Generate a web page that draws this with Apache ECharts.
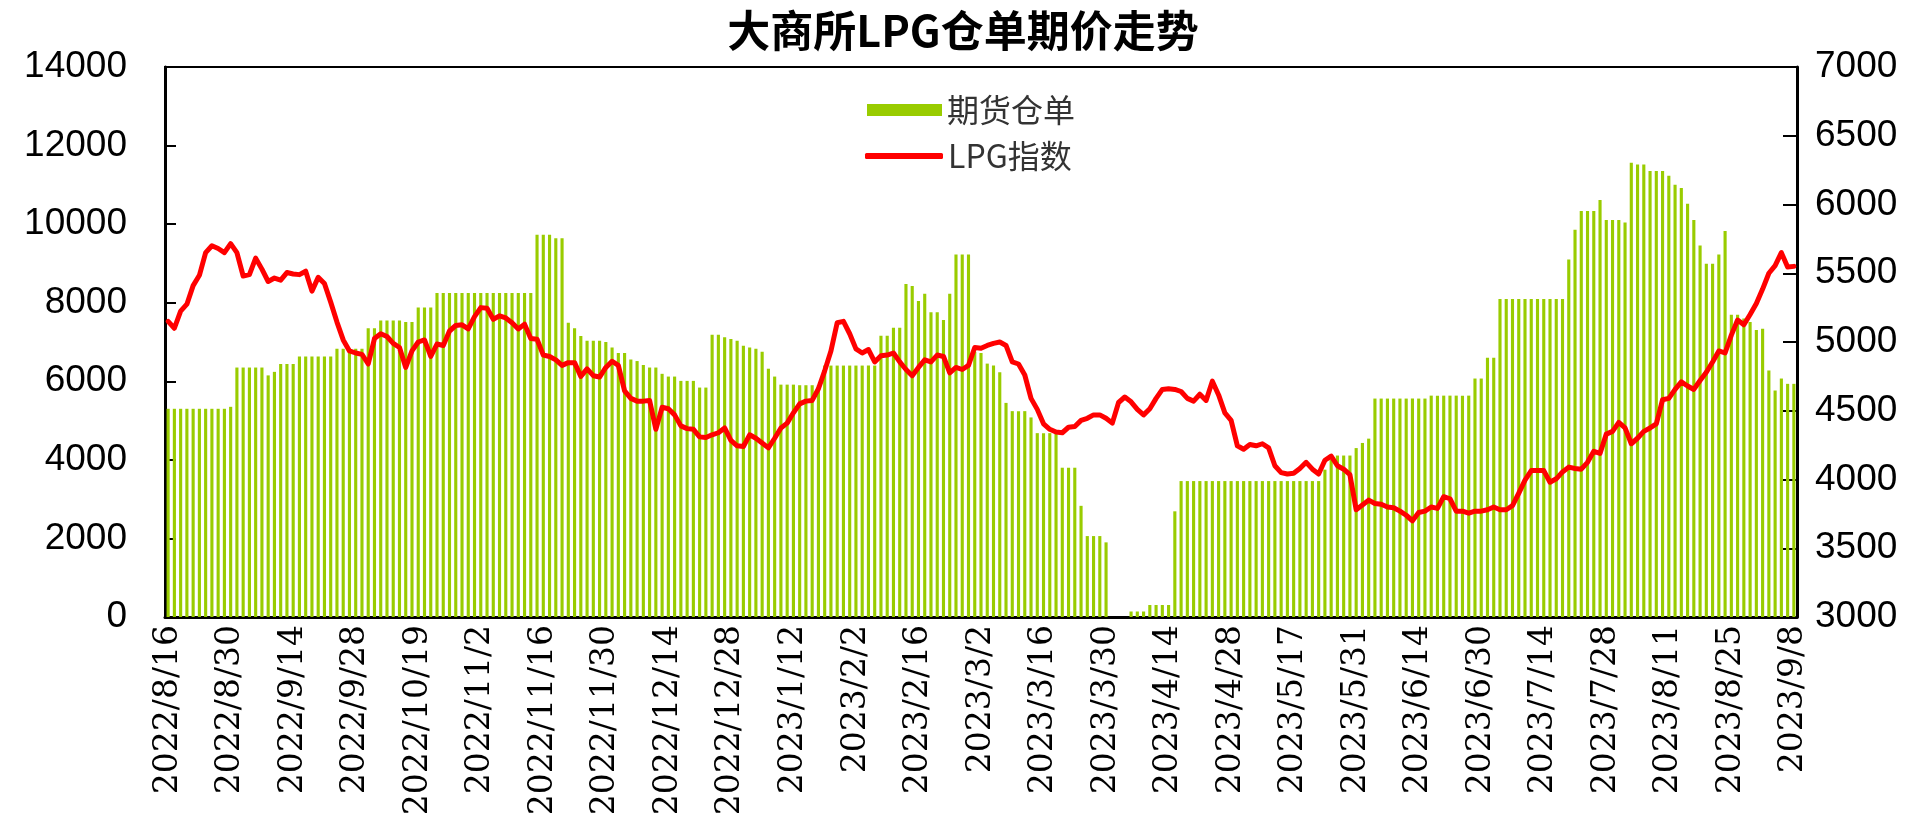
<!DOCTYPE html>
<html>
<head>
<meta charset="utf-8">
<title>大商所LPG仓单期价走势</title>
<script src="https://cdn.jsdelivr.net/npm/echarts@6.0.0/dist/echarts.min.js"></script>
<style>
  html, body { margin: 0; padding: 0; background: #fff; }
  #chart { width: 1926px; height: 816px; }
</style>
</head>
<body>
<div id="chart"></div>
<script>
// trading days 2022/8/16 - 2023/9/8 (weekends + exchange holidays left out)
const startDay = '2022/8/16';
const endDay = '2023/9/8';
const holidays = [
  '2022/9/12', '2022/10/3', '2022/10/4', '2022/10/5', '2022/10/6', '2022/10/7',
  '2023/1/2', '2023/1/23', '2023/1/24', '2023/1/25', '2023/1/26', '2023/1/27',
  '2023/4/5', '2023/5/1', '2023/5/2', '2023/5/3', '2023/6/22', '2023/6/23'
];

// 期货仓单 (left axis)
const receipts = [
  5300, 5300, 5300, 5300, 5300, 5300, 5300, 5300, 5300, 5300,
  5350, 6350, 6350, 6350, 6350, 6350, 6150, 6240, 6440, 6440,
  6440, 6630, 6630, 6630, 6630, 6630, 6630, 6830, 6830, 6830,
  6830, 6830, 7350, 7350, 7545, 7545, 7545, 7545, 7510, 7510,
  7880, 7880, 7880, 8250, 8250, 8250, 8250, 8250, 8250, 8250,
  8250, 8250, 8250, 8250, 8250, 8250, 8250, 8250, 8250, 9730,
  9730, 9730, 9640, 9640, 7490, 7350, 7155, 7030, 7030, 7030,
  7000, 6860, 6720, 6720, 6555, 6515, 6415, 6350, 6350, 6190,
  6120, 6120, 6010, 6010, 6010, 5840, 5840, 7185, 7185, 7120,
  7075, 7030, 6905, 6860, 6830, 6750, 6320, 6120, 5915, 5915,
  5915, 5900, 5900, 5900, 5900, 6400, 6400, 6400, 6400, 6400,
  6400, 6400, 6400, 6400, 7160, 7160, 7360, 7360, 8475, 8425,
  8045, 8230, 7755, 7755, 7560, 8230, 9225, 9225, 9225, 6750,
  6720, 6450, 6400, 6230, 5450, 5240, 5240, 5240, 5080, 4680,
  4680, 4680, 4680, 3800, 3800, 3800, 2830, 2060, 2060, 2060,
  1900, 0, 0, 0, 140, 140, 140, 305, 305, 305,
  305, 2690, 3460, 3460, 3460, 3460, 3460, 3460, 3460, 3460,
  3460, 3460, 3460, 3460, 3460, 3460, 3460, 3460, 3460, 3460,
  3460, 3460, 3460, 3460, 3460, 3750, 4000, 4110, 4110, 4110,
  4300, 4430, 4540, 5560, 5560, 5560, 5560, 5560, 5560, 5560,
  5560, 5560, 5635, 5635, 5635, 5635, 5635, 5635, 5635, 6070,
  6070, 6600, 6600, 8095, 8095, 8095, 8095, 8095, 8095, 8095,
  8095, 8095, 8095, 8095, 9100, 9855, 10335, 10335, 10335, 10615,
  10105, 10105, 10105, 10040, 11560, 11520, 11520, 11355, 11355, 11355,
  11235, 11005, 10920, 10520, 10105, 9455, 8990, 8990, 9225, 9825,
  7695, 7695, 7600, 7510, 7305, 7340, 6275, 5765, 6070, 5935,
  5935
];

// LPG指数 (right axis)
const lpgIndex = [
  5150, 5100, 5225, 5275, 5410, 5485, 5650, 5700, 5680, 5650,
  5715, 5650, 5480, 5490, 5610, 5530, 5440, 5465, 5450, 5505,
  5495, 5490, 5515, 5370, 5470, 5425, 5290, 5145, 5015, 4935,
  4920, 4910, 4840, 5025, 5060, 5040, 4990, 4960, 4815, 4935,
  5000, 5015, 4895, 4985, 4975, 5080, 5120, 5125, 5095, 5185,
  5250, 5245, 5165, 5190, 5175, 5140, 5095, 5130, 5025, 5020,
  4905, 4895, 4870, 4830, 4850, 4850, 4750, 4805, 4755, 4745,
  4815, 4860, 4830, 4645, 4590, 4570, 4570, 4575, 4365, 4525,
  4515, 4470, 4390, 4370, 4365, 4310, 4305, 4325, 4340, 4375,
  4285, 4245, 4240, 4325, 4300, 4265, 4230, 4300, 4375, 4410,
  4485, 4550, 4570, 4575, 4660, 4790, 4935, 5140, 5150, 5060,
  4950, 4920, 4945, 4855, 4900, 4905, 4920, 4855, 4800, 4755,
  4815, 4870, 4855, 4905, 4895, 4775, 4815, 4800, 4830, 4960,
  4955, 4975, 4990, 5000, 4975, 4855, 4840, 4760, 4590, 4510,
  4405, 4365, 4345, 4340, 4380, 4385, 4430, 4445, 4470, 4470,
  4445, 4410, 4560, 4600, 4565, 4510, 4470, 4515, 4590, 4655,
  4660, 4655, 4640, 4590, 4570, 4620, 4575, 4715, 4615, 4485,
  4430, 4245, 4220, 4255, 4245, 4260, 4230, 4100, 4050, 4040,
  4045, 4080, 4125, 4075, 4040, 4140, 4170, 4100, 4075, 4035,
  3780, 3815, 3850, 3825, 3820, 3800, 3795, 3770, 3740, 3700,
  3760, 3770, 3800, 3790, 3875, 3860, 3770, 3770, 3755, 3770,
  3770, 3780, 3800, 3780, 3780, 3810, 3900, 3995, 4065, 4065,
  4065, 3980, 4005, 4055, 4090, 4080, 4075, 4125, 4205, 4190,
  4330, 4350, 4415, 4375, 4260, 4300, 4350, 4375, 4405, 4580,
  4590, 4655, 4710, 4680, 4655, 4720, 4780, 4855, 4935, 4920,
  5050, 5160, 5125, 5200, 5280, 5385, 5500, 5555, 5650, 5545,
  5550
];

function parseDay(s) {
  const p = s.split('/').map(Number);
  return Date.UTC(p[0], p[1] - 1, p[2]);
}

function tradingDays(from, to) {
  const off = new Set(holidays.map(parseDay));
  const out = [];
  for (let t = parseDay(from); t <= parseDay(to); t += 86400000) {
    const d = new Date(t);
    const wd = d.getUTCDay();
    if (wd === 0 || wd === 6 || off.has(t)) continue;
    out.push(d.getUTCFullYear() + '/' + (d.getUTCMonth() + 1) + '/' + d.getUTCDate());
  }
  return out;
}

const days = tradingDays(startDay, endDay);

const chart = echarts.init(document.getElementById('chart'));

const legendText = { fontSize: 32, color: '#333', fontFamily: 'Noto Sans CJK SC' };
const plainNum = v => String(v);

chart.setOption({
  animation: false,
  backgroundColor: '#fff',
  title: {
    text: '大商所LPG仓单期价走势',
    left: 'center',
    top: 4,
    textStyle: { fontSize: 43, fontWeight: 'bold', color: '#000', fontFamily: 'Noto Sans CJK SC' }
  },
  legend: [
    {
      left: 862, top: 89,
      itemWidth: 75, itemHeight: 12,
      textStyle: legendText,
      data: [{ name: '期货仓单', icon: 'rect' }]
    },
    {
      left: 860, top: 135,
      itemWidth: 78, itemHeight: 6,
      textStyle: legendText,
      data: [{ name: 'LPG指数', icon: 'roundRect', itemStyle: { color: '#ff0000' } }]
    }
  ],
  grid: {
    left: 165, right: 129, top: 67, bottom: 199,
    show: true, borderColor: '#000', borderWidth: 2,
    containLabel: false, outerBoundsMode: 'none'
  },
  xAxis: {
    type: 'category',
    data: days,
    axisLine: { lineStyle: { color: '#000', width: 3 } },
    axisTick: { interval: 0, length: 4, lineStyle: { color: '#000' } },
    axisLabel: { interval: 9, rotate: 90, margin: 8, fontSize: 33, fontFamily: 'DejaVu Serif', color: '#000' }
  },
  yAxis: [
    {
      type: 'value', min: 0, max: 14000, interval: 2000,
      splitLine: { show: false },
      axisLine: { show: true, lineStyle: { color: '#000', width: 3 } },
      axisTick: { show: true, inside: true, length: 11, lineStyle: { color: '#000', width: 2 } },
      axisLabel: { margin: 38, fontSize: 37, fontFamily: 'Liberation Sans', color: '#000', formatter: plainNum }
    },
    {
      type: 'value', min: 3000, max: 7000, interval: 500, position: 'right',
      splitLine: { show: false },
      axisLine: { show: true, lineStyle: { color: '#000', width: 3 } },
      axisTick: { show: true, inside: true, length: 14, lineStyle: { color: '#000', width: 2 } },
      axisLabel: { margin: 18, fontSize: 37, fontFamily: 'Liberation Sans', color: '#000', formatter: plainNum }
    }
  ],
  series: [
    {
      name: '期货仓单',
      type: 'bar',
      data: receipts,
      barWidth: '50%',
      itemStyle: { color: '#99cc00' }
    },
    {
      name: 'LPG指数',
      type: 'line',
      yAxisIndex: 1,
      data: lpgIndex,
      symbol: 'none',
      showSymbol: false,
      lineStyle: { color: '#ff0000', width: 5, cap: 'round', join: 'round' },
      itemStyle: { color: '#ff0000' }
    }
  ]
});

window.addEventListener('resize', () => chart.resize());
</script>
</body>
</html>
